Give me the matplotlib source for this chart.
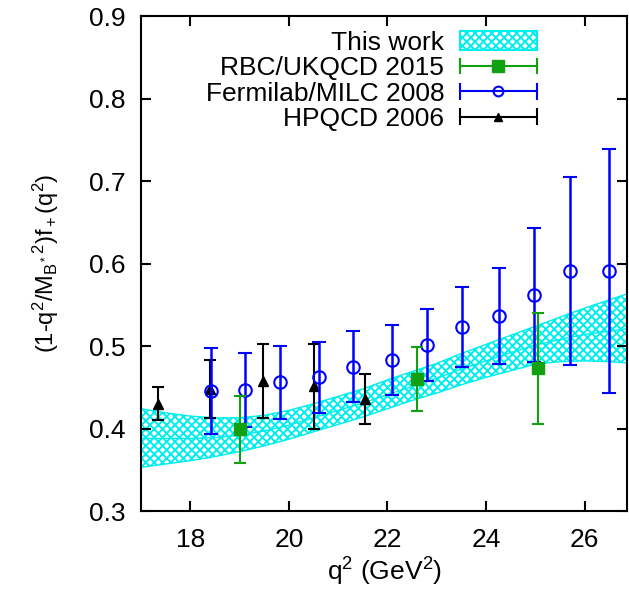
import numpy as np
import matplotlib
matplotlib.use("Agg")
import matplotlib.pyplot as plt
from matplotlib.lines import Line2D
from matplotlib.patches import Patch
from matplotlib.legend_handler import HandlerBase

plt.rcParams['font.family'] = ['Liberation Sans', 'DejaVu Sans']
plt.rcParams['mathtext.fontset'] = 'custom'
plt.rcParams['mathtext.rm'] = 'Liberation Sans'
plt.rcParams['mathtext.it'] = 'Liberation Sans'
plt.rcParams['mathtext.default'] = 'regular'
plt.rcParams['hatch.linewidth'] = 1.4

# band: this work
band_q2 = [17.0, 17.5, 18.0, 18.5, 19.0, 19.5, 20.0, 20.5, 21.0, 21.5, 22.0,
           22.5, 23.0, 23.5, 24.0, 24.5, 25.0, 25.5, 26.0, 26.5, 27.0]
band_lo = [0.353, 0.357, 0.361, 0.366, 0.372, 0.379, 0.387, 0.396, 0.405, 0.414, 0.424,
           0.434, 0.443, 0.453, 0.462, 0.470, 0.478, 0.481, 0.482, 0.481, 0.479]
band_hi = [0.424, 0.419, 0.415, 0.413, 0.413, 0.416, 0.422, 0.430, 0.439, 0.448, 0.459,
           0.469, 0.479, 0.491, 0.502, 0.513, 0.524, 0.535, 0.546, 0.556, 0.566]
band_mid = [0.388, 0.388, 0.388, 0.389, 0.392, 0.397, 0.404, 0.413, 0.422, 0.431, 0.441,
            0.451, 0.461, 0.472, 0.482, 0.492, 0.501, 0.508, 0.514, 0.518, 0.522]

# RBC/UKQCD 2015
rbc_q2 = [19.01, 22.59, 25.06]
rbc_f = [0.399, 0.460, 0.473]
rbc_err = [0.041, 0.039, 0.067]

# Fermilab/MILC 2008
fnal_q2 = [18.41, 19.10, 19.81, 20.61, 21.31, 22.09, 22.80, 23.51, 24.27, 24.98, 25.70, 26.50]
fnal_f = [0.445, 0.447, 0.456, 0.462, 0.475, 0.483, 0.501, 0.523, 0.536, 0.562, 0.591, 0.591]
fnal_err = [0.052, 0.045, 0.044, 0.043, 0.043, 0.042, 0.044, 0.048, 0.058, 0.081, 0.114, 0.148]

# HPQCD 2006
hpqcd_q2 = [17.34, 18.39, 19.47, 20.50, 21.55]
hpqcd_f = [0.430, 0.448, 0.458, 0.451, 0.436]
hpqcd_err = [0.020, 0.035, 0.045, 0.051, 0.030]

CYAN = '#00eeee'
GREEN = '#10a010'
BLUE = '#0000ff'


class HandlerBar(HandlerBase):    # gnuplot style key: horizontal bar with end caps
    def create_artists(self, legend, orig, xdescent, ydescent, width, height, fontsize, trans):
        y = height / 2 - ydescent
        x0, x1 = -xdescent, width - xdescent
        c = orig.get_color()
        cap = height * 0.4
        arts = [Line2D([x0, x1], [y, y], color=c, lw=1.5),
                Line2D([x0, x0], [y - cap, y + cap], color=c, lw=1.5),
                Line2D([x1, x1], [y - cap, y + cap], color=c, lw=1.5),
                Line2D([(x0 + x1) / 2], [y], marker=orig.get_marker(), ms=orig.get_markersize(),
                       mfc=orig.get_markerfacecolor(), mec=orig.get_markeredgecolor(),
                       mew=orig.get_markeredgewidth(), ls='none')]
        for a in arts:
            a.set_transform(trans)
        return arts


def main():
    fig = plt.figure(figsize=(6.29, 5.94), dpi=100)
    ax = fig.add_axes([0.2242, 0.1397, 0.7734, 0.8333])

    ax.fill_between(band_q2, band_lo, band_hi, facecolor='none', edgecolor=CYAN,
                    hatch='xxxx', linewidth=0, zorder=1)
    ax.plot(band_q2, band_lo, color=CYAN, lw=1.0, zorder=1)
    ax.plot(band_q2, band_hi, color=CYAN, lw=1.0, zorder=1)
    ax.plot(band_q2, band_mid, color=CYAN, lw=1.0, zorder=1)

    ax.errorbar(hpqcd_q2, hpqcd_f, yerr=hpqcd_err, fmt='^', color='black', ms=7,
                elinewidth=1.5, capsize=4, capthick=1.5, zorder=3)
    ax.errorbar(fnal_q2, fnal_f, yerr=fnal_err, fmt='o', color=BLUE, mfc='none', mec=BLUE,
                ms=9, mew=1.5, elinewidth=1.8, capsize=5, capthick=1.8, zorder=4)
    ax.errorbar(rbc_q2, rbc_f, yerr=rbc_err, fmt='s', color=GREEN, ms=9,
                elinewidth=1.5, capsize=4, capthick=1.5, zorder=5)

    ax.set_xlim(17, 26.87)
    ax.set_ylim(0.3, 0.9)
    ax.set_xticks([18, 20, 22, 24, 26])
    ax.set_yticks([0.3, 0.4, 0.5, 0.6, 0.7, 0.8, 0.9])
    ax.tick_params(direction='in', length=7, width=1.5, top=True, right=True,
                   labelsize=19, pad=11)
    ax.tick_params(axis='x', pad=12)
    for s in ax.spines.values():
        s.set_linewidth(1.5)

    ax.set_xlabel(r'q$^2$ (GeV$^2$)', fontsize=19, labelpad=3)
    ax.set_ylabel(r'(1-q$^2$/M$_{B^*}$$^2$)f$_+$(q$^2$)', fontsize=17, labelpad=20)

    handles = [Patch(facecolor='white', edgecolor=CYAN, hatch='xxxx', lw=1.5),
               Line2D([], [], color=GREEN, marker='s', ms=9, mfc=GREEN, mec=GREEN),
               Line2D([], [], color=BLUE, marker='o', ms=7, mfc='none', mec=BLUE, mew=1.5),
               Line2D([], [], color='black', marker='^', ms=6, mfc='black', mec='black')]
    labels = ['This work', 'RBC/UKQCD 2015', 'Fermilab/MILC 2008', 'HPQCD 2006']
    ax.legend(handles, labels, handler_map={Line2D: HandlerBar()}, loc='upper right',
              bbox_to_anchor=((537 - 141) / 487, 0.970), frameon=False, markerfirst=False,
              fontsize=19, handlelength=2.9, handletextpad=0.6, labelspacing=0.05,
              borderpad=0, borderaxespad=0)

    fig.savefig('out.png', dpi=100)


if __name__ == "__main__":
    main()
